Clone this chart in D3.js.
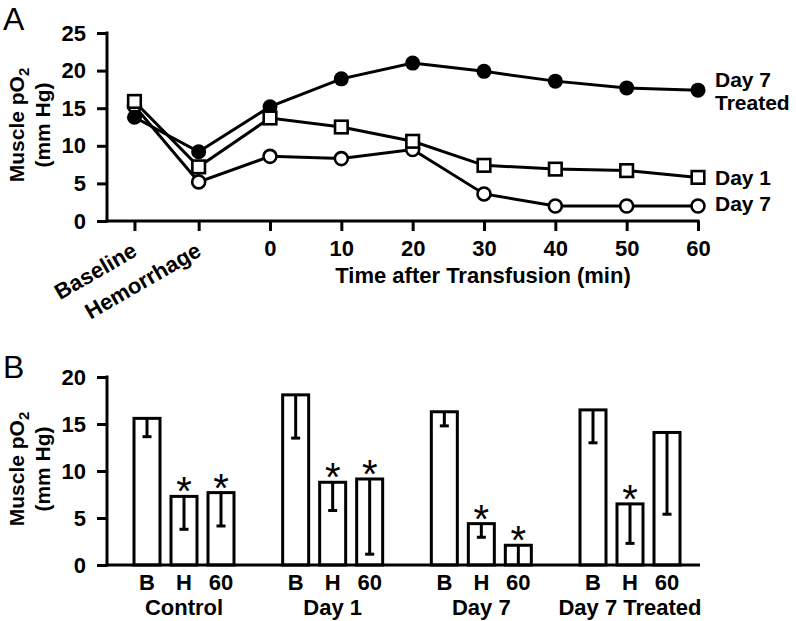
<!DOCTYPE html>
<html><head><meta charset="utf-8">
<script src="https://cdn.jsdelivr.net/npm/d3@7"></script>
<style>
body{margin:0;background:#fff;}
text{font-family:"Liberation Sans",Arial,sans-serif;}
</style></head>
<body><svg id="c" width="796" height="621"></svg>
<script>
// ---------- Panel A data ----------
const timeLabels = ["Baseline","Hemorrhage","0","10","20","30","40","50","60"];
const timeValues = [-19, -10, 0, 10, 20, 30, 40, 50, 60];
const day7Treated = [13.8, 9.2, 15.2, 18.9, 21.0, 19.9, 18.6, 17.7, 17.4];
const day1 = [15.9, 7.2, 13.7, 12.5, 10.6, 7.4, 6.9, 6.7, 5.8];
const day7 = [15.3, 5.2, 8.6, 8.3, 9.5, 3.6, 2.0, 2.0, 2.0];
const yTicksA = [0,5,10,15,20,25];

// ---------- Panel B data ----------
const groups = ["Control","Day 1","Day 7","Day 7 Treated"];
const phases = ["B","H","60"];
const barMeans = [[15.6,7.3,7.7],[18.1,8.8,9.15],[16.3,4.4,2.1],[16.5,6.5,14.1]];
const barLower = [[13.65,3.8,4.15],[13.5,5.8,1.15],[14.8,2.95,0],[13.0,2.3,5.4]];
const significant = [[false,true,true],[false,true,true],[false,true,true],[false,true,false]];
const yTicksB = [0,5,10,15,20];

const svg = d3.select("#c");
const BOLD = "bold";
const FS = 22;

// ================= Panel A =================
const xA = d3.scaleLinear().domain([-22.85, 60]).range([107, 698]);
const yA = d3.scaleLinear().domain([0, 25]).range([221, 33]);

const gA = svg.append("g");
const yAxisA = d3.axisLeft(yA).tickValues(yTicksA).tickSize(10).tickPadding(11);
const yaxA = gA.append("g").attr("transform","translate(107,0)").call(yAxisA);
const xAxisA = d3.axisBottom(xA).tickValues(timeValues).tickSize(10)
  .tickFormat((d,i)=> i<2 ? "" : timeLabels[i]).tickPadding(9);
const xaxA = gA.append("g").attr("transform","translate(0,221)").call(xAxisA);
function styleAxis(ax){
  ax.select(".domain").remove();
  ax.selectAll(".tick line").attr("stroke","#000").attr("stroke-width",3);
  ax.selectAll(".tick text").attr("font-size",FS).attr("font-weight",BOLD).attr("fill","#000")
    .attr("font-family","Liberation Sans, Arial, sans-serif");
}
styleAxis(yaxA); styleAxis(xaxA);
gA.append("line").attr("x1",107).attr("x2",107).attr("y1",31.5).attr("y2",222.5).attr("stroke","#000").attr("stroke-width",3);
gA.append("line").attr("x1",105.5).attr("x2",xA(60)+1.5).attr("y1",221).attr("y2",221).attr("stroke","#000").attr("stroke-width",3);

[0,1].forEach(i=>{
  gA.append("text").attr("text-anchor","end").attr("font-size",FS).attr("font-weight",BOLD)
    .attr("transform",`translate(${xA(timeValues[i])+4},255) rotate(-30)`).text(timeLabels[i]);
});
gA.append("text").attr("x",483).attr("y",283).attr("text-anchor","middle")
  .attr("font-size",FS).attr("font-weight",BOLD).text("Time after Transfusion (min)");

function yTitle(g, cy){
  const t1 = g.append("text").attr("transform",`translate(24,${cy}) rotate(-90)`)
    .attr("text-anchor","middle").attr("font-size",21).attr("font-weight",BOLD);
  t1.append("tspan").text("Muscle pO");
  t1.append("tspan").attr("font-size",15).attr("dy",5).text("2");
  g.append("text").attr("transform",`translate(50,${cy}) rotate(-90)`)
    .attr("text-anchor","middle").attr("font-size",21).attr("font-weight",BOLD).text("(mm Hg)");
}
yTitle(gA, 125);
svg.append("text").attr("x",3).attr("y",30).attr("font-size",32).text("A");

const line = d3.line().x((d,i)=>xA(timeValues[i])).y(d=>yA(d));
function series(vals, marker){
  gA.append("path").attr("d",line(vals)).attr("fill","none").attr("stroke","#000").attr("stroke-width",3);
  vals.forEach((v,i)=>{
    const cx = xA(timeValues[i]), cy = yA(v);
    if(marker==="filled") gA.append("circle").attr("cx",cx).attr("cy",cy).attr("r",7.5).attr("fill","#000");
    else if(marker==="open") gA.append("circle").attr("cx",cx).attr("cy",cy).attr("r",6.5).attr("fill","#fff").attr("stroke","#000").attr("stroke-width",2.6);
    else gA.append("rect").attr("x",cx-6.3).attr("y",cy-6.3).attr("width",12.6).attr("height",12.6).attr("fill","#fff").attr("stroke","#000").attr("stroke-width",2.6);
  });
}
series(day7, "open");
series(day7Treated, "filled");
series(day1, "square");

const legendA = [["Day 7",87],["Treated",110],["Day 1",185],["Day 7",211]];
legendA.forEach(([t,y])=>gA.append("text").attr("x",715).attr("y",y).attr("font-size",21).attr("font-weight",BOLD).text(t));

// ================= Panel B =================
const yB = d3.scaleLinear().domain([0, 20]).range([565, 377]);
const xGroup = d3.scalePoint().domain(groups).range([184, 630]);
const xPhase = d3.scalePoint().domain(phases).range([-37, 37]);
const barW = 26;
const gB = svg.append("g");
const yAxisB = d3.axisLeft(yB).tickValues(yTicksB).tickSize(10).tickPadding(11);
const yaxB = gB.append("g").attr("transform","translate(107,0)").call(yAxisB);
styleAxis(yaxB);
gB.append("line").attr("x1",107).attr("x2",107).attr("y1",375.5).attr("y2",566.5).attr("stroke","#000").attr("stroke-width",3);

groups.forEach((g,gi)=>{
  phases.forEach((p,pi)=>{
    const cx = xGroup(g)+xPhase(p);
    const top = yB(barMeans[gi][pi]);
    gB.append("rect").attr("x",cx-barW/2).attr("y",top).attr("width",barW).attr("height",yB(0)-top)
      .attr("fill","#fff").attr("stroke","#000").attr("stroke-width",3);
    const lo = yB(barLower[gi][pi]);
    gB.append("line").attr("x1",cx).attr("x2",cx).attr("y1",top).attr("y2",lo).attr("stroke","#000").attr("stroke-width",3);
    if(barLower[gi][pi]>0)
      gB.append("line").attr("x1",cx-4.5).attr("x2",cx+4.5).attr("y1",lo).attr("y2",lo).attr("stroke","#000").attr("stroke-width",3);
    if(significant[gi][pi])
      gB.append("text").attr("x",cx).attr("y",top+9).attr("text-anchor","middle").attr("font-size",40).text("*");
    gB.append("text").attr("x",cx).attr("y",590).attr("text-anchor","middle").attr("font-size",FS).attr("font-weight",BOLD).text(p);
  });
  gB.append("text").attr("x",xGroup(g)).attr("y",615).attr("text-anchor","middle").attr("font-size",FS).attr("font-weight",BOLD).text(g);
});
gB.append("line").attr("x1",105.5).attr("x2",700).attr("y1",565).attr("y2",565).attr("stroke","#000").attr("stroke-width",3);
yTitle(gB, 469);
svg.append("text").attr("x",3).attr("y",378).attr("font-size",32).text("B");
</script></body></html>
